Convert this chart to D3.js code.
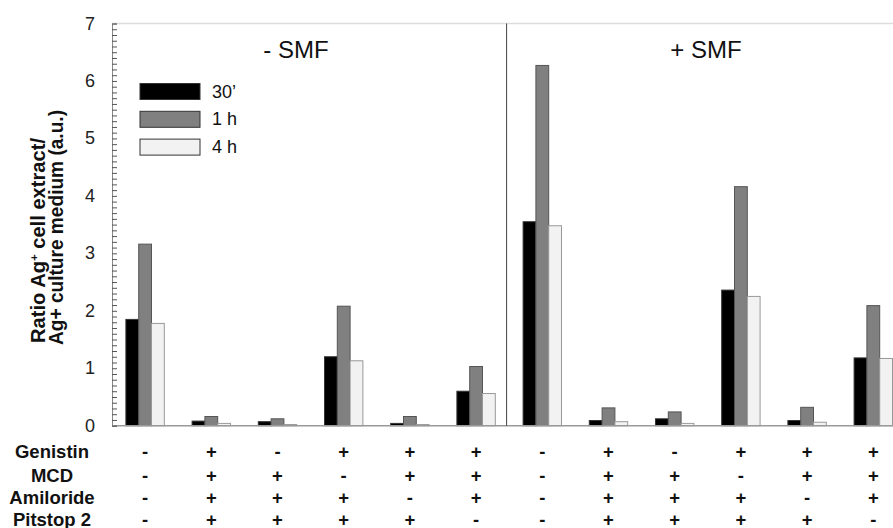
<!DOCTYPE html>
<html lang="en">
<head>
<meta charset="UTF-8">
<title>Ag+ uptake ratio</title>
<script src="https://d3js.org/d3.v7.min.js"></script>
<style>
  body { margin: 0; background: #fff; overflow: hidden; }
  text { font-family: "Liberation Sans", Arial, sans-serif; }
  .tick-label { font-size: 18px; fill: #222; }
  .row-label, .sign { font-size: 18.5px; font-weight: bold; fill: #111; }
</style>
</head>
<body>
<svg id="chart" width="893" height="528"></svg>
<script>
    // data
    const groups = ["G1", "G2", "G3", "G4", "G5", "G6", "G7", "G8", "G9", "G10", "G11", "G12"];
    const series = ["30\u2019", "1 h", "4 h"];
    const values30 = [1.85, 0.08, 0.07, 1.20, 0.04, 0.60, 3.55, 0.09, 0.12, 2.36, 0.09, 1.18];
    const values1h = [3.16, 0.16, 0.12, 2.08, 0.16, 1.03, 6.27, 0.31, 0.24, 4.16, 0.32, 2.09];
    const values4h = [1.78, 0.04, 0.02, 1.13, 0.02, 0.56, 3.48, 0.07, 0.04, 2.25, 0.06, 1.17];
    const panels = ["- SMF", "+ SMF"];
    const rowNames = ["Genistin", "MCD", "Amiloride", "Pitstop 2"];
    const genistin  = ["-", "+", "-", "+", "+", "+", "-", "+", "-", "+", "+", "+"];
    const mcd       = ["-", "+", "+", "-", "+", "+", "-", "+", "+", "-", "+", "+"];
    const amiloride = ["-", "+", "+", "+", "-", "+", "-", "+", "+", "+", "-", "+"];
    const pitstop   = ["-", "+", "+", "+", "+", "-", "-", "+", "+", "+", "+", "-"];
    const yTicks = [0, 1, 2, 3, 4, 5, 6, 7];

    const seriesValues = [values30, values1h, values4h];
    const fills = ["#000000", "#808080", "#f2f2f2"];
    const strokes = ["#333", "#555", "#999"];

    const svg = d3.select("#chart");
    const plotLeft = 112, plotRight = 906.4, plotTop = 23.5, plotBottom = 425.7;

    const x = d3.scaleBand().domain(groups).range([plotLeft, plotRight])
        .paddingInner(0.42).paddingOuter(0.21);
    const xs = d3.scaleBand().domain(series).range([0, x.bandwidth()]);
    const y = d3.scaleLinear().domain([0, 7]).range([plotBottom, plotTop]);

    // frame: top border
    svg.append("line").attr("x1", plotLeft).attr("x2", 893).attr("y1", plotTop).attr("y2", plotTop)
        .attr("stroke", "#ddd").attr("stroke-width", 1.5);

    // bars
    const rows = groups.map((g, i) => series.map((s, j) => ({g, s, j, v: seriesValues[j][i]})));
    svg.append("g").selectAll("g").data(rows).join("g")
        .attr("transform", d => `translate(${x(d[0].g)},0)`)
        .selectAll("rect").data(d => d).join("rect")
        .attr("x", d => xs(d.s))
        .attr("y", d => y(d.v))
        .attr("width", xs.bandwidth())
        .attr("height", d => y(0) - y(d.v))
        .attr("fill", d => fills[d.j])
        .attr("stroke", d => strokes[d.j])
        .attr("stroke-width", 1);

    svg.append("line").attr("x1", plotLeft).attr("x2", 893).attr("y1", plotBottom).attr("y2", plotBottom)
        .attr("stroke", "#999").attr("stroke-width", 1.5);

    // y axis with inward minor ticks
    const yAxis = d3.axisRight(y).tickValues(d3.range(0, 70.5, 1).map(d => d / 10))
        .tickSize(5).tickFormat("");
    const ya = svg.append("g").attr("transform", `translate(${plotLeft},0)`).call(yAxis);
    ya.select(".domain").attr("stroke", "#888");
    ya.selectAll(".tick line").attr("stroke", "#555");

    svg.append("g").selectAll("text").data(yTicks).join("text")
        .attr("class", "tick-label")
        .attr("x", 95).attr("y", d => y(d))
        .attr("text-anchor", "end").attr("dominant-baseline", "central")
        .text(d => d);

    // y axis title
    const yt = svg.append("g").attr("transform", "translate(0,343) rotate(-90)");
    const t1 = yt.append("text").attr("x", 0).attr("y", 45)
        .attr("font-size", 19.5).attr("font-weight", "bold").attr("fill", "#111")
        .attr("textLength", 205).attr("lengthAdjust", "spacingAndGlyphs");
    t1.append("tspan").text("Ratio Ag");
    t1.append("tspan").attr("font-size", 11).attr("dy", -7).text("+");
    t1.append("tspan").attr("dy", 7).text(" cell extract/");
    yt.append("text").attr("x", -2).attr("y", 63)
        .attr("font-size", 19.5).attr("font-weight", "bold").attr("fill", "#111")
        .attr("textLength", 235).attr("lengthAdjust", "spacingAndGlyphs")
        .text("Ag+ culture medium (a.u.)");

    // panel divider and titles
    const dividerX = x(groups[6]) - 16.5;
    svg.append("line").attr("x1", dividerX).attr("x2", dividerX).attr("y1", plotTop).attr("y2", plotBottom)
        .attr("stroke", "#444").attr("stroke-width", 1);
    svg.append("g").selectAll("text").data(panels).join("text")
        .attr("x", (d, i) => i === 0 ? 296 : 706)
        .attr("y", 58)
        .attr("text-anchor", "middle")
        .attr("font-size", 24).attr("fill", "#111")
        .text(d => d);

    // legend
    const lg = svg.append("g").selectAll("g").data(series).join("g")
        .attr("transform", (d, i) => `translate(140,${83.5 + i * 27.8})`);
    lg.append("rect").attr("width", 60).attr("height", 16)
        .attr("fill", (d, i) => fills[i]).attr("stroke", "#333").attr("stroke-width", 1);
    lg.append("text").attr("x", 72).attr("y", 8).attr("dominant-baseline", "central")
        .attr("font-size", 18).attr("fill", "#111").text(d => d);

    // treatment table
    const table = [genistin, mcd, amiloride, pitstop];
    const rowY = [458, 481.5, 503.5, 526];
    svg.append("g").selectAll("text").data(rowNames).join("text")
        .attr("class", "row-label")
        .attr("x", 52).attr("y", (d, i) => rowY[i])
        .attr("text-anchor", "middle")
        .text(d => d);
    svg.append("g").selectAll("g").data(table).join("g")
        .attr("transform", (d, i) => `translate(0,${rowY[i]})`)
        .selectAll("text").data(d => d.map((s, i) => ({s, g: groups[i]}))).join("text")
        .attr("class", "sign")
        .attr("x", d => x(d.g) + x.bandwidth() / 2)
        .attr("text-anchor", "middle")
        .text(d => d.s);
</script>
</body>
</html>
